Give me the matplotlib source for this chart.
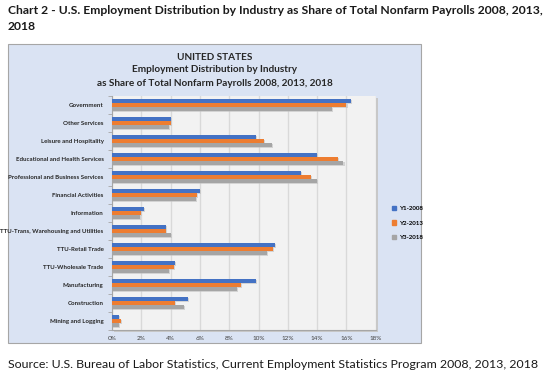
import matplotlib.pyplot as plt
import matplotlib.patches as mpatches
import matplotlib.patheffects as pe
import numpy as np

plt.rcParams['font.family'] = ['Lato', 'DejaVu Sans']

industries = ['Government', 'Other Services', 'Leisure and Hospitality',
              'Educational and Health Services', 'Professional and Business Services',
              'Financial Activities', 'Information', 'TTU-Trans, Warehousing and Utilities',
              'TTU-Retail Trade', 'TTU-Wholesale Trade', 'Manufacturing',
              'Construction', 'Mining and Logging']
y2008 = [16.3, 4.0, 9.8, 14.0, 12.9, 6.0, 2.2, 3.7, 11.1, 4.3, 9.8, 5.2, 0.5]
y2013 = [16.0, 4.0, 10.4, 15.4, 13.6, 5.8, 2.0, 3.7, 11.0, 4.2, 8.8, 4.3, 0.6]
y2018 = [15.0, 3.9, 10.9, 15.8, 14.0, 5.7, 1.9, 4.0, 10.6, 3.9, 8.5, 4.9, 0.5]
labels = ['Y1-2008', 'Y2-2013', 'Y3-2018']
colors = ['#4472c4', '#ed7d31', '#a5a5a5']

W, H = 548, 374
fig = plt.figure(figsize=(W / 100, H / 100), dpi=100)

def fx(px):
    return px / W

def fy(py):
    return 1 - py / H

# outer light-blue panel
fig.patches.append(mpatches.Rectangle((fx(8), fy(343)), fx(421 - 8), (343 - 44) / H,
                                      transform=fig.transFigure, facecolor='#dae3f3',
                                      edgecolor='#a6a6a6', linewidth=0.8, zorder=-2))
# plot area shadow
fig.patches.append(mpatches.Rectangle((fx(114), fy(332)), fx(376 - 112), (330 - 96) / H,
                                      transform=fig.transFigure, facecolor='#c8c8c8',
                                      edgecolor='none', zorder=-1))

ax = fig.add_axes([fx(112), fy(330), fx(375.7 - 112), (330 - 96) / H])
ax.set_zorder(2)
ax.set_facecolor('#f2f2f2')

n = len(industries)
pos = np.arange(n)[::-1]
h = 0.22
shadow = [pe.SimplePatchShadow(offset=(0.8, -0.8), shadow_rgbFace='#bfbfbf', alpha=0.6), pe.Normal()]
for i, (vals, c, lab) in enumerate(zip([y2008, y2013, y2018], colors, labels)):
    bars = ax.barh(pos + (1 - i) * h, vals, height=h, color=c, label=lab, zorder=3)
    for b in bars:
        b.set_path_effects(shadow)

ax.set_xlim(0, 18)
ax.set_ylim(-0.5, n - 0.5)
ax.set_xticks(np.arange(0, 19, 2))
ax.set_xticklabels([f'{v}%' for v in range(0, 19, 2)], fontsize=4.6, color='#404040')
ax.xaxis.grid(True, color='#d9d9d9', linewidth=1.0, zorder=0)
ax.set_axisbelow(True)
ax.tick_params(axis='x', length=0, pad=4)

ax.set_yticks(pos)
ax.set_yticklabels(industries, fontsize=4.4, fontweight='bold', color='#262626')
ax.set_yticks(np.arange(-0.5, n, 1), minor=True)
ax.tick_params(axis='y', which='major', length=0, pad=6)
ax.tick_params(axis='y', which='minor', length=3, color='#a6a6a6', width=0.6)

for s in ['top', 'right']:
    ax.spines[s].set_visible(False)
ax.spines['left'].set_color('#a6a6a6')
ax.spines['bottom'].set_color('#a6a6a6')
ax.spines['left'].set_linewidth(0.8)
ax.spines['bottom'].set_linewidth(0.8)

# legend
handles = [mpatches.Patch(color=c) for c in colors]
fig.legend(handles, labels, loc='upper left', bbox_to_anchor=(fx(386), fy(200)),
           frameon=False, prop={'weight': 'bold', 'size': 4.4},
           handlelength=0.8, handleheight=0.8, handletextpad=0.6, labelspacing=1.5)

# inner chart title
for txt, yy in [('UNITED STATES', 57), ('Employment Distribution by Industry', 70),
                ('as Share of Total Nonfarm Payrolls 2008, 2013, 2018', 83)]:
    fig.text(fx(215), fy(yy), txt, ha='center', va='center',
             fontsize=7.2, fontweight='bold', color='#262626')

# page title and source
fig.text(fx(8), fy(11), 'Chart 2 - U.S. Employment Distribution by Industry as Share of Total Nonfarm Payrolls 2008, 2013,',
         ha='left', va='center', fontsize=8.7, fontweight='bold', color='#1a1a1a')
fig.text(fx(8), fy(26), '2018', ha='left', va='center', fontsize=8.7, fontweight='bold',
         color='#1a1a1a')
fig.text(fx(8), fy(365), 'Source: U.S. Bureau of Labor Statistics, Current Employment Statistics Program 2008, 2013, 2018',
         ha='left', va='center', fontsize=8.9, color='#1a1a1a')

fig.savefig('out.png', dpi=100)
